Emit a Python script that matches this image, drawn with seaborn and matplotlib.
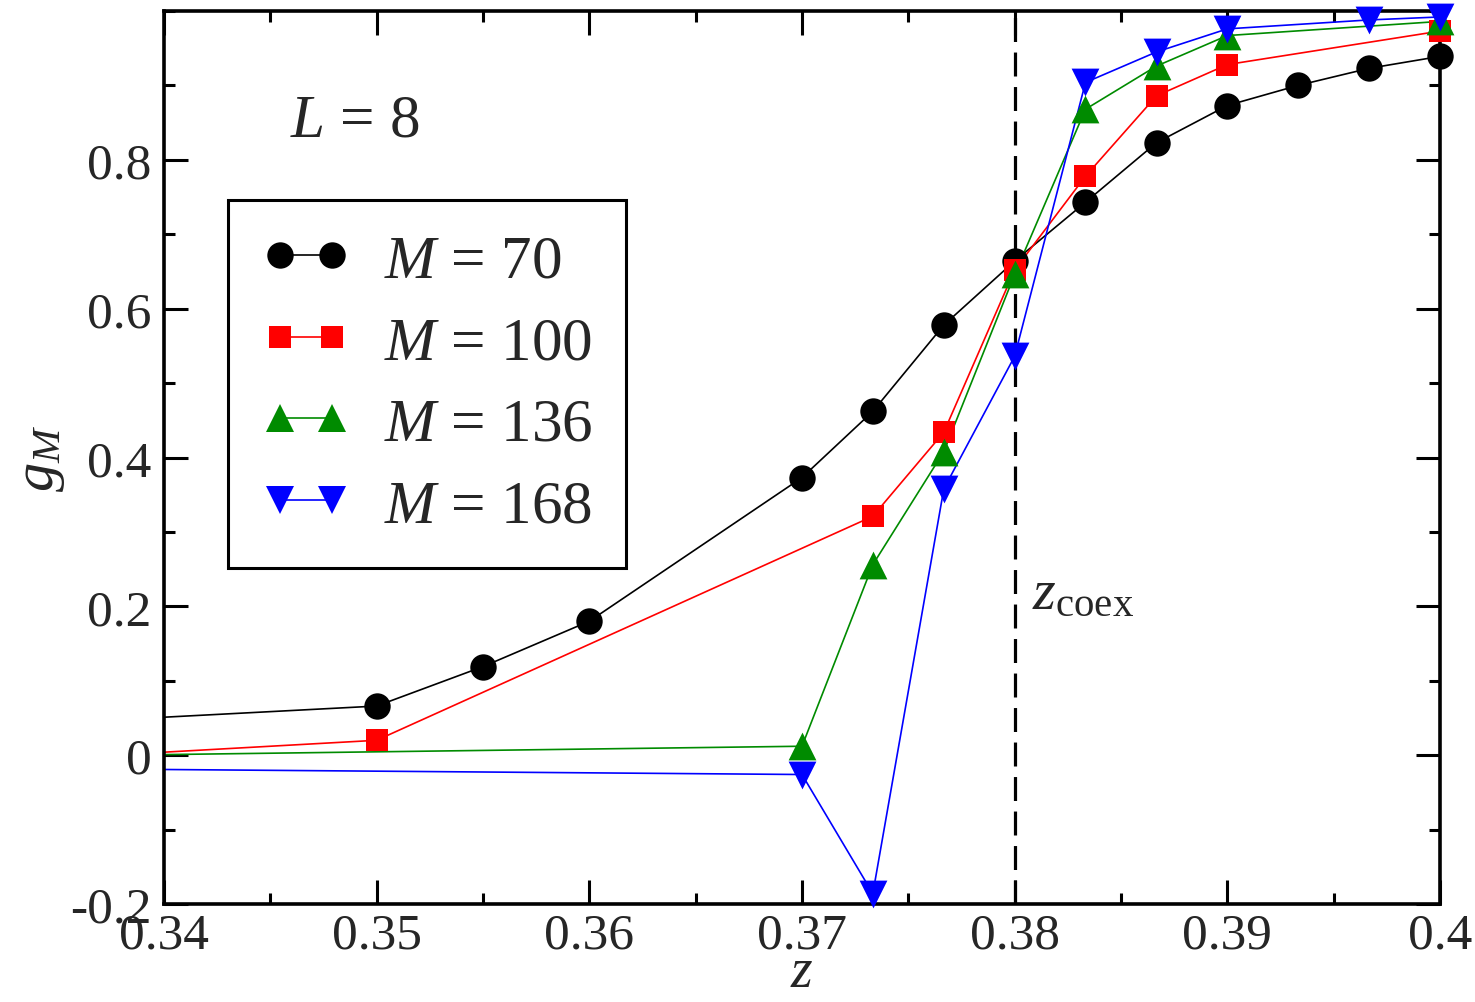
import matplotlib
matplotlib.use("Agg")
import matplotlib.pyplot as plt
import seaborn as sns
import pandas as pd
from matplotlib.lines import Line2D
from matplotlib.ticker import MultipleLocator

# ---- data ----
z_70 = [0.33, 0.35, 0.355, 0.36, 0.37, 0.37333, 0.37667, 0.38, 0.38333, 0.38667, 0.39, 0.39333, 0.39667, 0.40]
g_70 = [0.036, 0.066, 0.119, 0.180, 0.373, 0.462, 0.578, 0.664, 0.743, 0.823, 0.873, 0.900, 0.923, 0.939]

z_100 = [0.33, 0.35, 0.37333, 0.37667, 0.38, 0.38333, 0.38667, 0.39, 0.40]
g_100 = [-0.012, 0.020, 0.321, 0.434, 0.652, 0.778, 0.886, 0.928, 0.973]

z_136 = [0.33, 0.37, 0.37333, 0.37667, 0.38, 0.38333, 0.38667, 0.39, 0.40]
g_136 = [-0.003, 0.012, 0.256, 0.408, 0.646, 0.868, 0.926, 0.967, 0.986]

z_168 = [0.33, 0.37, 0.37333, 0.37667, 0.38, 0.38333, 0.38667, 0.39, 0.39667, 0.40]
g_168 = [-0.017, -0.026, -0.186, 0.358, 0.536, 0.904, 0.945, 0.976, 0.988, 0.992]

labels = [r"$M$ = 70", r"$M$ = 100", r"$M$ = 136", r"$M$ = 168"]
colors = ["black", "#ff0000", "#008b00", "#0000ff"]
markers = ["o", "s", "^", "v"]
msizes = [19, 16.5, 20, 20]

x_ticks = [0.34, 0.35, 0.36, 0.37, 0.38, 0.39, 0.40]
x_ticklabels = ["0.34", "0.35", "0.36", "0.37", "0.38", "0.39", "0.4"]
y_ticks = [-0.2, 0.0, 0.2, 0.4, 0.6, 0.8]
y_ticklabels = ["-0.2", "0", "0.2", "0.4", "0.6", "0.8"]
z_coex = 0.38

sns.set_theme(style="ticks")
plt.rcParams['font.family'] = ['Liberation Serif', 'DejaVu Serif']
plt.rcParams['mathtext.fontset'] = 'custom'
plt.rcParams['mathtext.rm'] = 'Liberation Serif'
plt.rcParams['mathtext.it'] = 'Liberation Serif:italic'
plt.rcParams['mathtext.bf'] = 'Liberation Serif:bold'

fig = plt.figure(figsize=(14.75, 10.03), dpi=100)
ax = fig.add_axes([164 / 1475, 98 / 1003, 1276 / 1475, 893 / 1003])

ax.axvline(z_coex, color="black", lw=2.3, ls=(0, (7.5, 3.3)), zorder=1)

series = [(z_70, g_70), (z_100, g_100), (z_136, g_136), (z_168, g_168)]
handles = []
for (zs, gs), lab, c, m, ms in zip(series, labels, colors, markers, msizes):
    df = pd.DataFrame({"z": zs, "g": gs})
    sns.lineplot(data=df, x="z", y="g", color=c, lw=1.2, ax=ax,
                 estimator=None, sort=False, zorder=2)
    vis = df[df["z"] >= 0.34 - 1e-9]
    sns.scatterplot(data=vis, x="z", y="g", color=c, marker=m, s=ms ** 2,
                    linewidth=0, ax=ax, clip_on=False, zorder=3)
    handles.append(Line2D([], [], color=c, marker=m, markersize=ms, lw=1.2,
                          markeredgewidth=0))

ax.set_xlim(0.34, 0.40)
ax.set_ylim(-0.2, 1.0)
ax.set_xticks(x_ticks)
ax.set_xticklabels(x_ticklabels)
ax.set_yticks(y_ticks)
ax.set_yticklabels(y_ticklabels)
ax.xaxis.set_minor_locator(MultipleLocator(0.005))
ax.yaxis.set_minor_locator(MultipleLocator(0.1))

ax.tick_params(which="both", direction="in", top=True, right=True,
               width=2.2, color="black", labelsize=37)
ax.tick_params(which="major", length=17)
ax.tick_params(which="minor", length=8)
ax.tick_params(axis="x", pad=6)
ax.tick_params(axis="y", pad=9)
for sp in ax.spines.values():
    sp.set_linewidth(2.6)
    sp.set_color("black")

ax.set_xlabel(r"$z$", fontsize=40, labelpad=-9)
ax.set_ylabel(r"$g_M$", fontsize=42, labelpad=2)

leg = ax.legend(handles=handles, labels=labels, loc="upper left",
                bbox_to_anchor=(0.050, 0.788), borderaxespad=0, numpoints=2,
                handlelength=1.45, fontsize=44, frameon=True, fancybox=False,
                edgecolor="black", framealpha=1, labelspacing=0.42,
                handletextpad=0.55, borderpad=0.55)
leg.get_frame().set_linewidth(2.2)

ax.text(0.099, 0.877, r"$L$ = 8", transform=ax.transAxes, fontsize=44,
        va="center", ha="left")
ax.text(0.680, 0.347, r"$z_{\rm coex}$", transform=ax.transAxes, fontsize=42,
        va="center", ha="left")

fig.savefig("out.png", dpi=100)
